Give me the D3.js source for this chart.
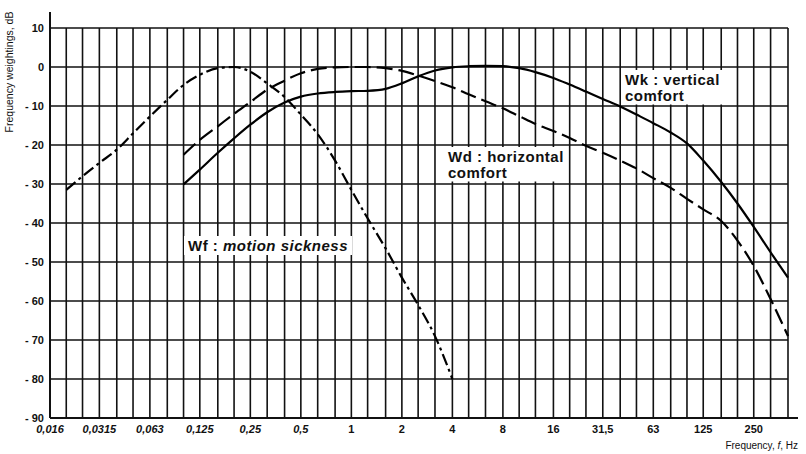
<!DOCTYPE html>
<html>
<head>
<meta charset="utf-8">
<script src="https://cdn.jsdelivr.net/npm/d3@7"></script>
<style>
body { margin: 0; background: #fff; }
svg text { font-family: "Liberation Sans", Arial, sans-serif; fill: #111; }
</style>
</head>
<body>
<svg id="chart" width="806" height="454"></svg>
<script>
// one-third octave band centres, Hz (grid lines)
var bands = [0.016, 0.02, 0.025, 0.0315, 0.04, 0.05, 0.063, 0.08, 0.1, 0.125,
    0.16, 0.2, 0.25, 0.315, 0.4, 0.5, 0.63, 0.8, 1, 1.25, 1.6, 2, 2.5, 3.15, 4,
    5, 6.3, 8, 10, 12.5, 16, 20, 25, 31.5, 40, 50, 63, 80, 100, 125, 160, 200,
    250, 315, 400];
var octaveTicks = [0.016, 0.0315, 0.063, 0.125, 0.25, 0.5, 1, 2, 4, 8, 16, 31.5, 63, 125, 250];
var dbTicks = [10, 0, -10, -20, -30, -40, -50, -60, -70, -80, -90];

// Wf : motion sickness, 0.02 .. 4 Hz
var wfFreq = [0.02, 0.025, 0.0315, 0.04, 0.05, 0.063, 0.08, 0.1, 0.125, 0.16,
    0.2, 0.25, 0.315, 0.4, 0.5, 0.63, 0.8, 1, 1.25, 1.6, 2, 2.5, 3.15, 4];
var wfValues = [-31.5, -28.0, -24.6, -21.2, -17.0, -12.7, -8.4, -4.6, -2.0, -0.3,
    0, -1.2, -4.2, -7.7, -12.2, -17.2, -24.0, -31.5, -38.8, -46.5, -54.0, -61.0, -69.0, -80.0];

// Wk and Wd, 0.1 .. 400 Hz
var wFreq = [0.1, 0.125, 0.16, 0.2, 0.25, 0.315, 0.4, 0.5, 0.63, 0.8, 1, 1.25,
    1.6, 2, 2.5, 3.15, 4, 5, 6.3, 8, 10, 12.5, 16, 20, 25, 31.5, 40, 50, 63, 80,
    100, 125, 160, 200, 250, 315, 400];
var wkValues = [-30.1, -26.3, -22.0, -18.3, -14.8, -11.6, -9.1, -7.6, -6.8, -6.4,
    -6.2, -6.1, -5.6, -4.2, -2.4, -0.9, -0.1, 0.2, 0.3, 0.2, -0.3, -1.3, -2.8,
    -4.5, -6.3, -8.2, -10.1, -12.2, -14.4, -16.8, -19.6, -24.0, -29.5, -35.0,
    -41.0, -47.5, -54.0];
var wdValues = [-22.5, -18.7, -15.2, -12.0, -9.0, -5.8, -3.5, -1.6, -0.5, -0.1,
    0, 0, -0.3, -1.0, -2.2, -3.6, -5.2, -7.0, -8.8, -10.6, -12.6, -14.6, -16.4,
    -18.2, -20.2, -22.0, -24.0, -26.0, -28.5, -31.0, -33.8, -36.5, -39.5, -44.5,
    -51.0, -59.5, -69.0];

var svg = d3.select("#chart");

var x = d3.scaleLog()
    .domain([0.016, 400])
    .range([50, 788]);

var y = d3.scaleLinear()
    .domain([-90, 10])
    .range([418, 28]);

var grid = svg.append("g").attr("class", "grid");

// vertical grid, every third octave
grid.selectAll(".vline")
    .data(bands.slice(1))
    .enter().append("line")
    .attr("x1", function(d) { return x(d); })
    .attr("x2", function(d) { return x(d); })
    .attr("y1", y(10))
    .attr("y2", y(-90))
    .attr("stroke", "#111")
    .attr("stroke-width", 1.6);

// horizontal grid, every 10 dB
grid.selectAll(".hline")
    .data(dbTicks.slice(0, -1))
    .enter().append("line")
    .attr("x1", x(0.016))
    .attr("x2", x(400))
    .attr("y1", function(d) { return y(d); })
    .attr("y2", function(d) { return y(d); })
    .attr("stroke", "#111")
    .attr("stroke-width", 1.6);

// axes lines
svg.append("line")
    .attr("x1", x(0.016)).attr("x2", 798)
    .attr("y1", y(-90)).attr("y2", y(-90))
    .attr("stroke", "#111").attr("stroke-width", 1.8);
svg.append("line")
    .attr("x1", x(0.016)).attr("x2", x(0.016))
    .attr("y1", 12).attr("y2", y(-90))
    .attr("stroke", "#111").attr("stroke-width", 2);

// tick labels
svg.selectAll(".ylab")
    .data(dbTicks)
    .enter().append("text")
    .attr("x", 44)
    .attr("y", function(d) { return y(d); })
    .attr("dy", "0.35em")
    .attr("text-anchor", "end")
    .attr("font-size", 11)
    .attr("font-weight", "bold")
    .text(function(d) { return d < 0 ? "- " + Math.abs(d) : d; });

svg.selectAll(".xlab")
    .data(octaveTicks)
    .enter().append("text")
    .attr("x", function(d) { return x(d); })
    .attr("y", 433)
    .attr("text-anchor", "middle")
    .attr("font-size", 11)
    .attr("font-weight", "bold")
    .attr("font-style", function(d) { return d < 1 ? "italic" : null; })
    .text(function(d) { return String(d).replace(".", ","); });

// axis titles
svg.append("text")
    .attr("transform", "translate(13,72) rotate(-90)")
    .attr("text-anchor", "middle")
    .attr("font-size", 10.5)
    .text("Frequency weightings, dB");

var xt = svg.append("text")
    .attr("x", 798)
    .attr("y", 449)
    .attr("text-anchor", "end")
    .attr("font-size", 10);
xt.append("tspan").text("Frequency, ");
xt.append("tspan").attr("font-style", "italic").text("f");
xt.append("tspan").text(", Hz");

// curves
var line = d3.line()
    .x(function(d) { return x(d[0]); })
    .y(function(d) { return y(d[1]); })
    .curve(d3.curveMonotoneX);

function drawCurve(freqs, vals, dash)
{
    svg.append("path")
        .datum(d3.zip(freqs, vals))
        .attr("d", line)
        .attr("fill", "none")
        .attr("stroke", "#000")
        .attr("stroke-width", 2.2)
        .attr("stroke-dasharray", dash);
}

drawCurve(wfFreq, wfValues, "12,4,3,4");
drawCurve(wFreq, wdValues, "16,6");
drawCurve(wFreq, wkValues, null);

// curve labels on white boxes
function label(x0, y0, lines)
{
    var g = svg.append("g");
    var box = g.append("rect").attr("fill", "#fff");
    var t = g.append("text")
        .attr("font-size", 15)
        .attr("font-weight", "bold")
        .attr("letter-spacing", 0.5);
    lines.forEach(function(parts, i)
    {
        parts.forEach(function(p, j)
        {
            var s = t.append("tspan").attr("font-style", p[1] ? "italic" : null).text(p[0]);
            if (j === 0) s.attr("x", x0).attr("y", y0 + i * 15.5);
        });
    });
    var b = t.node().getBBox();
    box.attr("x", b.x - 4).attr("y", b.y - 1)
        .attr("width", b.width + 8).attr("height", b.height + 2);
}

label(625, 85, [[["Wk : vertical"]], [["comfort"]]]);
label(448, 162, [[["Wd : horizontal"]], [["comfort"]]]);
label(188, 251, [[["Wf : "], ["motion sickness", true]]]);
</script>
</body>
</html>
